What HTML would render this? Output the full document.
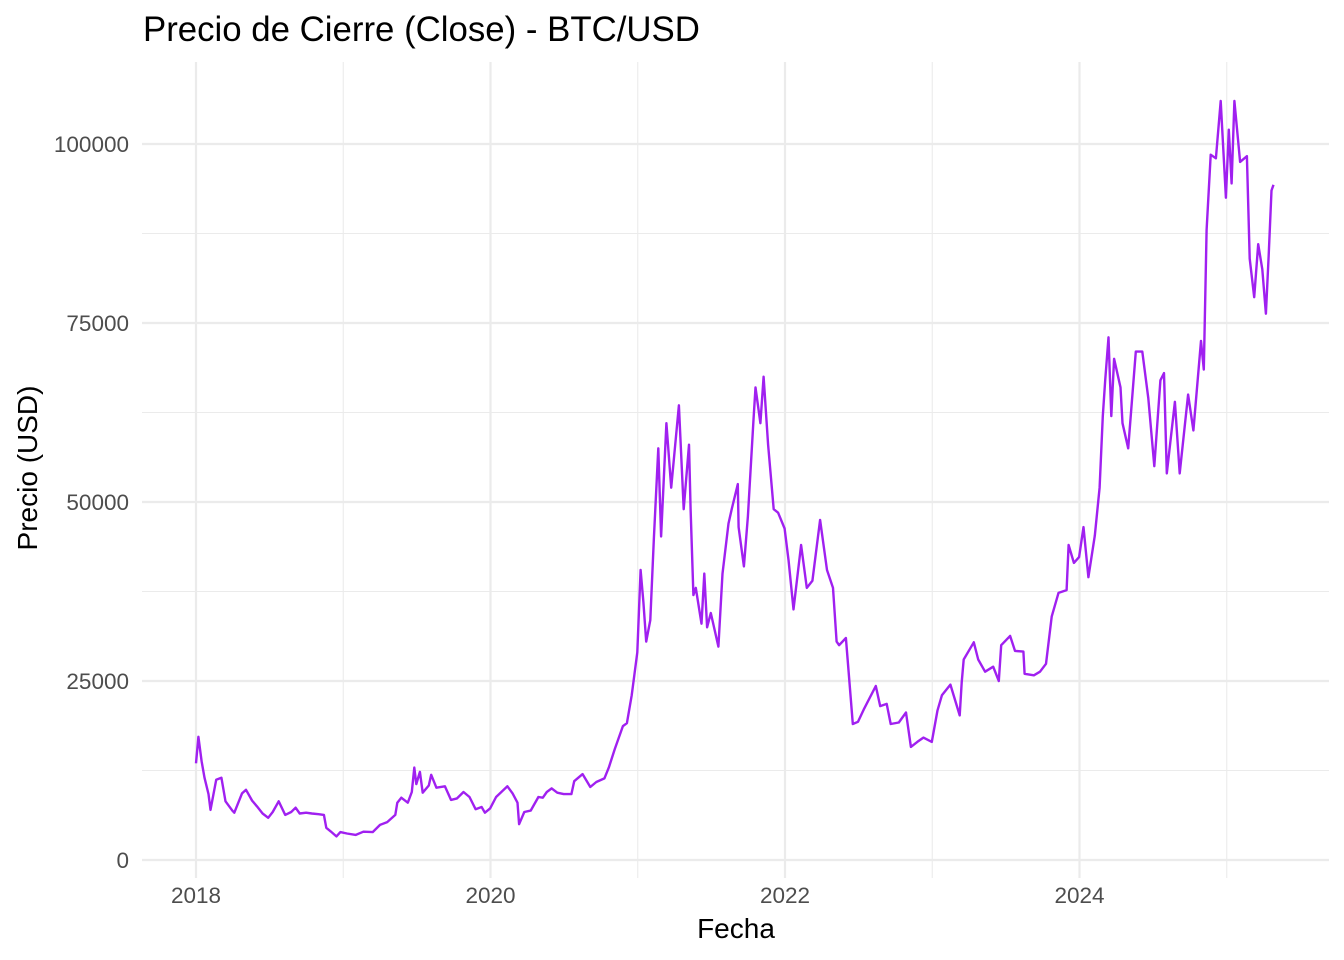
<!DOCTYPE html>
<html><head><meta charset="utf-8"><style>
body{margin:0;background:#fff}
svg{display:block;font-family:"Liberation Sans",Arial,sans-serif}
</style></head><body>
<svg id="chart" width="1344" height="960">
<text x="143" y="41" font-size="34.8" fill="#000">Precio de Cierre (Close) - BTC/USD</text>
<g id="grid"></g>
<g id="axes"></g>
<path id="line" fill="none" stroke="#A020F0" stroke-width="2.4" stroke-linejoin="round"/>
<text x="736" y="938" font-size="28" text-anchor="middle" fill="#000">Fecha</text>
<text transform="translate(37,468) rotate(-90)" font-size="28" text-anchor="middle" fill="#000">Precio (USD)</text>
</svg>
<script>
const dates=["2018-01-01","2018-01-07","2018-01-15","2018-01-22","2018-02-01","2018-02-06","2018-02-20","2018-03-05","2018-03-15","2018-04-01","2018-04-06","2018-04-25","2018-05-05","2018-05-20","2018-06-01","2018-06-15","2018-06-29","2018-07-10","2018-07-25","2018-08-10","2018-08-25","2018-09-05","2018-09-15","2018-10-01","2018-10-15","2018-11-01","2018-11-14","2018-11-20","2018-12-01","2018-12-15","2018-12-25",
"2019-01-10","2019-02-01","2019-02-20","2019-03-15","2019-04-02","2019-04-20","2019-05-10","2019-05-15","2019-05-25","2019-06-10","2019-06-20","2019-06-26","2019-07-01","2019-07-10","2019-07-17","2019-08-01","2019-08-07","2019-08-20","2019-09-10","2019-09-25","2019-10-10","2019-10-26","2019-11-10","2019-11-25","2019-12-10","2019-12-18","2019-12-31",
"2020-01-15","2020-02-12","2020-02-25","2020-03-08","2020-03-12","2020-03-25","2020-04-10","2020-04-29","2020-05-10","2020-05-20","2020-06-01","2020-06-15","2020-07-01","2020-07-20","2020-07-27","2020-08-17","2020-09-05","2020-09-20","2020-10-10","2020-10-21","2020-11-05","2020-11-25","2020-12-05","2020-12-17","2020-12-31",
"2021-01-08","2021-01-15","2021-01-22","2021-02-01","2021-02-10","2021-02-21","2021-02-28","2021-03-13","2021-03-25","2021-04-13","2021-04-25","2021-05-08","2021-05-12","2021-05-19","2021-05-25","2021-06-08","2021-06-15","2021-06-22","2021-07-01","2021-07-20","2021-07-30","2021-08-14","2021-08-22","2021-09-06","2021-09-08","2021-09-21","2021-10-01","2021-10-15","2021-10-20","2021-11-01","2021-11-09","2021-11-20","2021-12-04","2021-12-15","2021-12-31",
"2022-01-10","2022-01-22","2022-02-10","2022-02-24","2022-03-10","2022-03-29","2022-04-15","2022-04-30","2022-05-09","2022-05-15","2022-06-01","2022-06-13","2022-06-18","2022-07-01","2022-07-15","2022-08-14","2022-08-25","2022-09-10","2022-09-20","2022-10-10","2022-10-28","2022-11-09","2022-11-25","2022-12-10","2022-12-31",
"2023-01-14","2023-01-25","2023-02-15","2023-03-10","2023-03-15","2023-03-20","2023-04-14","2023-04-25","2023-05-12","2023-06-01","2023-06-15","2023-06-21","2023-07-13","2023-07-25","2023-08-15","2023-08-18","2023-09-10","2023-09-25","2023-10-10","2023-10-24","2023-11-10","2023-11-30","2023-12-05","2023-12-18","2023-12-31",
"2024-01-11","2024-01-23","2024-02-08","2024-02-20","2024-02-28","2024-03-05","2024-03-13","2024-03-20","2024-03-27","2024-04-12","2024-04-17","2024-05-01","2024-05-20","2024-06-05","2024-06-20","2024-07-05","2024-07-20","2024-07-29","2024-08-05","2024-08-25","2024-09-06","2024-09-27","2024-10-10","2024-10-29","2024-11-05","2024-11-12","2024-11-22","2024-12-05","2024-12-17","2024-12-30",
"2025-01-06","2025-01-13","2025-01-20","2025-02-03","2025-02-20","2025-02-27","2025-03-10","2025-03-20","2025-03-30","2025-04-08","2025-04-15","2025-04-22","2025-04-27"];
const closes=[13500,17200,13800,11500,9200,7000,11200,11500,8200,6900,6600,9300,9800,8300,7500,6500,5900,6700,8200,6300,6700,7300,6500,6600,6500,6400,6300,4500,4000,3300,3900,
3700,3500,3950,3900,4900,5300,6300,8000,8700,8000,9500,12900,10600,12300,9400,10400,11900,10100,10300,8400,8600,9500,8800,7100,7400,6600,7200,
8800,10300,9300,8000,5000,6700,6900,8800,8700,9500,10000,9400,9200,9200,11000,12000,10200,10900,11400,12900,15500,18700,19100,23000,29000,
40500,36000,30500,33500,45000,57500,45200,61000,52000,63500,49000,58000,49000,37000,38000,33000,40000,32500,34500,29800,40000,47000,49000,52500,46500,41000,48000,61500,66000,61000,67500,58000,49000,48500,46300,
41800,35000,44000,38000,39000,47500,40500,38000,30500,30000,31000,22500,19000,19300,21000,24300,21500,21800,19000,19200,20600,15800,16500,17100,16500,
20900,23000,24500,20200,24800,28000,30400,28000,26300,27000,25000,30000,31300,29200,29100,26000,25800,26300,27400,34000,37300,37700,44000,41500,42300,
46500,39500,45300,52000,62000,67000,73000,62000,70000,66000,61000,57500,71000,71000,64500,55000,67000,68000,54000,64000,54000,65000,60000,72500,68500,88000,98500,98000,106000,92500,
102000,94500,106000,97500,98300,84000,78600,86000,82500,76300,84500,93500,94300];
const xTicks=[2018,2020,2022,2024];
const yTicks=[0,25000,50000,75000,100000];

const PL=142,PR=1329,PT=62,PB=878;
function yr(d){const t=new Date(d+"T00:00:00Z");const y=t.getUTCFullYear();const s=Date.UTC(y,0,1),e=Date.UTC(y+1,0,1);return y+(t-s)/(e-s);}
const X=v=>196+(v-2018)*147.25;
const Y=v=>860-v*0.00716;
const ns="http://www.w3.org/2000/svg";
const grid=document.getElementById('grid'),axes=document.getElementById('axes');
function ln(x1,y1,x2,y2,w,name){const l=document.createElementNS(ns,'line');l.setAttribute('x1',x1);l.setAttribute('y1',y1);l.setAttribute('x2',x2);l.setAttribute('y2',y2);l.setAttribute('stroke','#EBEBEB');l.setAttribute('stroke-width',w);


grid.appendChild(l);}
for(let v=12500;v<=112500;v+=25000){if(Y(v)>PT)ln(PL,Y(v),PR,Y(v),1.1,'y-minor-gridline');}
for(let v=2019;v<=2025;v+=2)ln(X(v),PT,X(v),PB,1.1,'x-minor-gridline');
yTicks.forEach(v=>{ln(PL,Y(v),PR,Y(v),2.2,'y-major-gridline');
const t=document.createElementNS(ns,'text');t.setAttribute('x',129);t.setAttribute('y',Y(v)+8);t.setAttribute('text-anchor','end');t.setAttribute('font-size','22.5');t.setAttribute('fill','#4D4D4D');t.textContent=v;


axes.appendChild(t);});
xTicks.forEach(v=>{ln(X(v),PT,X(v),PB,2.2,'x-major-gridline');
const t=document.createElementNS(ns,'text');t.setAttribute('x',X(v));t.setAttribute('y',903);t.setAttribute('text-anchor','middle');t.setAttribute('font-size','22.5');t.setAttribute('fill','#4D4D4D');t.textContent=v;


axes.appendChild(t);});
let d='';dates.forEach((dt,i)=>{d+=(i?'L':'M')+X(yr(dt)).toFixed(1)+','+Y(closes[i]).toFixed(1);});
document.getElementById('line').setAttribute('d',d);
</script>
</body></html>
